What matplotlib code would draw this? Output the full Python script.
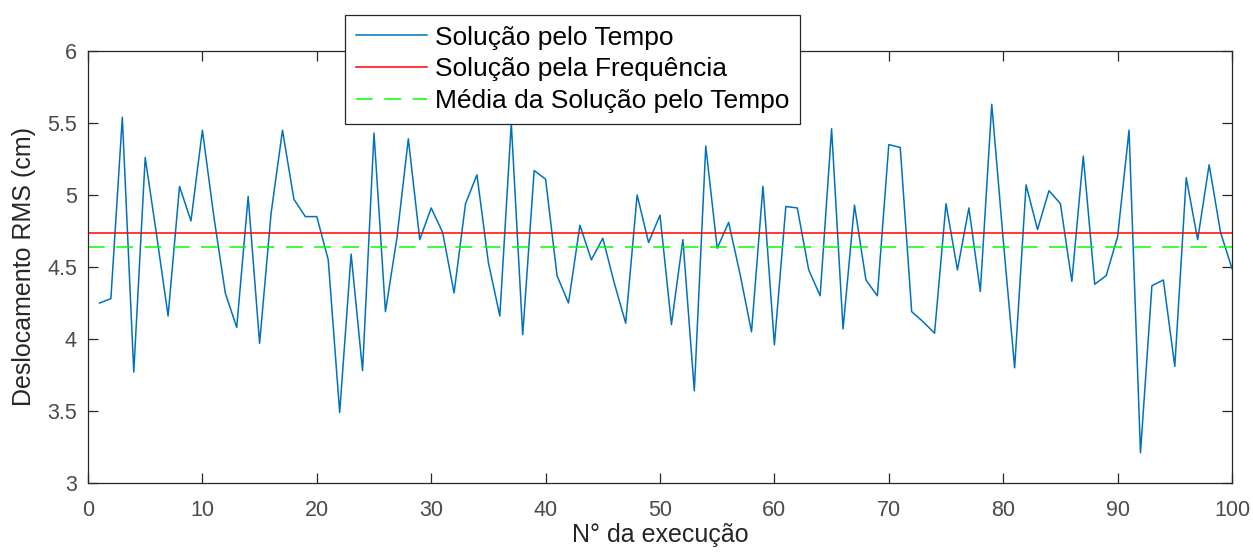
import numpy as np
import matplotlib.pyplot as plt

plt.rcParams['font.family'] = ['Liberation Sans', 'DejaVu Sans']

# execution number and RMS displacement (cm)
execucao = list(range(1, 101))
rms_tempo = [
    4.25, 4.28, 5.54, 3.77, 5.26, 4.72, 4.16, 5.06, 4.82, 5.45,
    4.85, 4.32, 4.08, 4.99, 3.97, 4.87, 5.45, 4.97, 4.85, 4.85,
    4.55, 3.49, 4.59, 3.78, 5.43, 4.19, 4.70, 5.39, 4.69, 4.91,
    4.74, 4.32, 4.94, 5.14, 4.53, 4.16, 5.50, 4.03, 5.17, 5.11,
    4.44, 4.25, 4.79, 4.55, 4.70, 4.39, 4.11, 5.00, 4.67, 4.86,
    4.10, 4.69, 3.64, 5.34, 4.63, 4.81, 4.45, 4.05, 5.06, 3.96,
    4.92, 4.91, 4.48, 4.30, 5.46, 4.07, 4.93, 4.41, 4.30, 5.35,
    5.33, 4.19, 4.12, 4.04, 4.94, 4.48, 4.91, 4.33, 5.63, 4.69,
    3.80, 5.07, 4.76, 5.03, 4.94, 4.40, 5.27, 4.38, 4.44, 4.71,
    5.45, 3.21, 4.37, 4.41, 3.81, 5.12, 4.69, 5.21, 4.74, 4.49,
]
rms_frequencia = 4.736
media_tempo = 4.638

fig = plt.figure(figsize=(12.53, 5.52), dpi=100)
ax = fig.add_axes([88 / 1253, 1 - 483 / 552, (1232 - 88) / 1253, (483 - 51) / 552])

ax.plot(execucao, rms_tempo, color='#0072BD', lw=1.1, label='Solução pelo Tempo')
ax.axhline(rms_frequencia, color='#FF0000', lw=1.1, label='Solução pela Frequência')
ax.axhline(media_tempo, color='#00FF00', lw=1.1, ls=(0, (11, 7.5)),
           label='Média da Solução pelo Tempo')

ax.set_xlim(0, 100)
ax.set_ylim(3, 6)
ax.set_xticks(np.arange(0, 101, 10))
ax.set_yticks(np.arange(3, 6.01, 0.5))
ax.set_yticklabels(['3', '3.5', '4', '4.5', '5', '5.5', '6'])

ax.tick_params(direction='in', top=True, right=True, length=7, width=0.9,
               color='#262626', labelcolor='#4a4a4a', labelsize=15.5)
ax.tick_params(axis='x', pad=12)
ax.tick_params(axis='y', pad=8)
for s in ax.spines.values():
    s.set_color('#262626')
    s.set_linewidth(0.9)

ax.set_xlabel('N° da execução', fontsize=18, color='#262626', labelpad=2)
ax.set_ylabel('Deslocamento RMS (cm)', fontsize=18, color='#262626', labelpad=8)

leg = ax.legend(loc='upper left', bbox_to_anchor=(345 / 1253, 1 - 15 / 552),
                bbox_transform=fig.transFigure, fontsize=19, frameon=True,
                fancybox=False, edgecolor='#262626', framealpha=1,
                handlelength=2.7, handletextpad=0.3, borderpad=0.4,
                labelspacing=0.3, borderaxespad=0)
leg.get_frame().set_linewidth(0.9)

fig.savefig('out.png', dpi=100)
